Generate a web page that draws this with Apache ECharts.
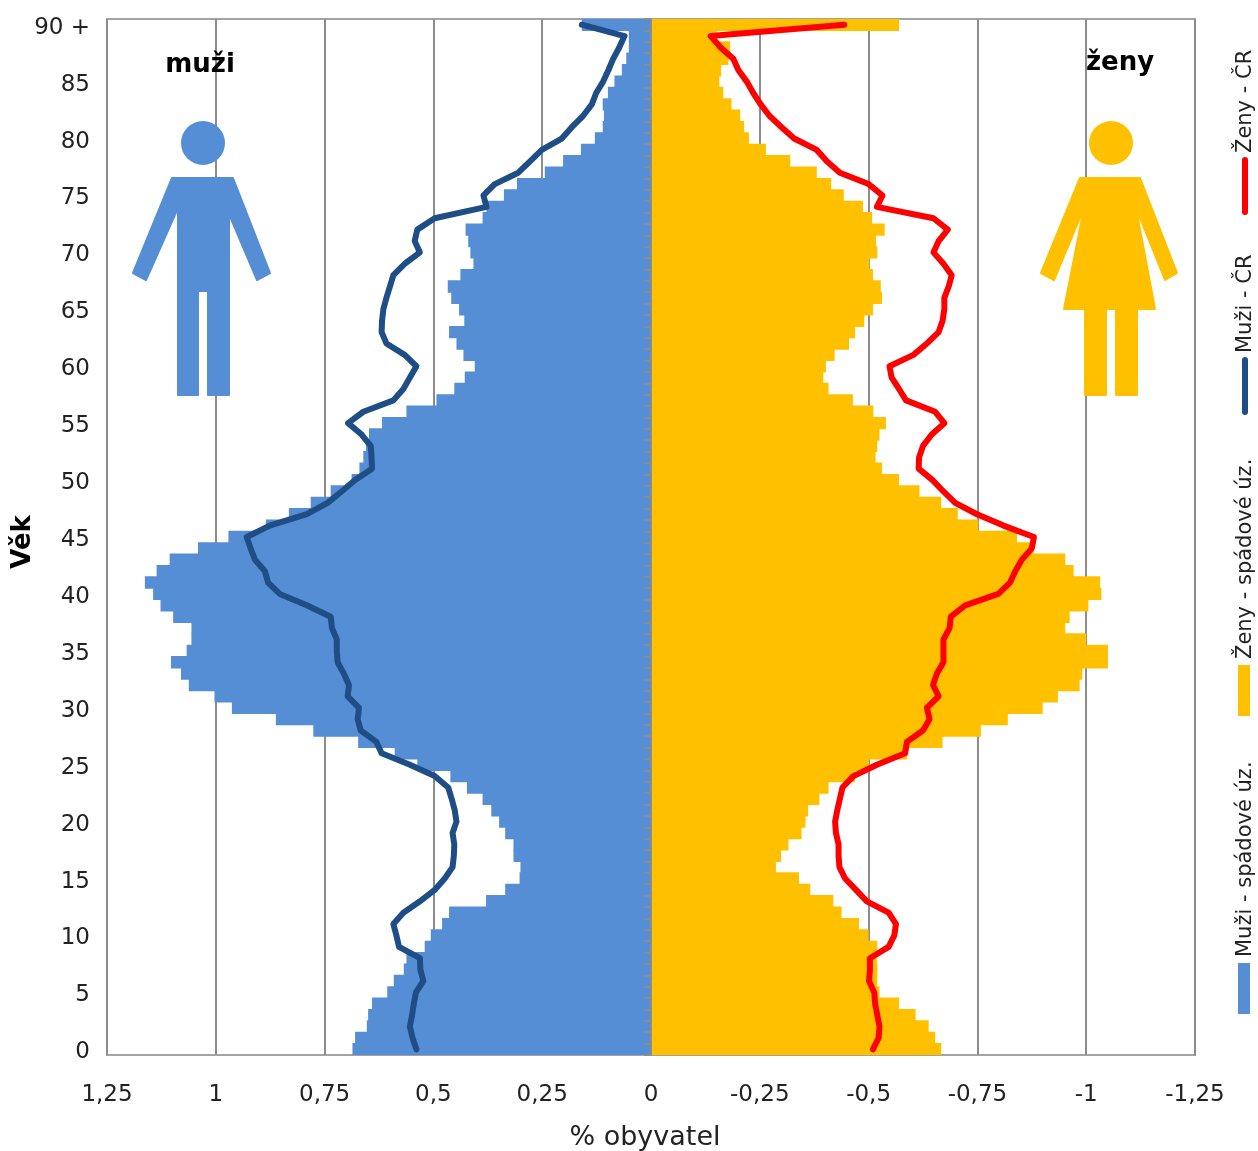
<!DOCTYPE html>
<html>
<head>
<meta charset="utf-8">
<title>Věková pyramida</title>
<script src="https://cdn.jsdelivr.net/npm/echarts@6/dist/echarts.min.js"></script>
<style>
	html, body { margin: 0; padding: 0; background: #fff; }
	#charts { width: 1258px; height: 1151px; }
</style>
</head>
<body>
<div id="charts"></div>
<script>
// vek 0 az 90 +, hodnoty v % obyvatel, zeny kladne (na ose se otoci do minusu)
var muziUz = [
	.686, .680, .653, .650, .641, .606, .591, .568, .562, .520,
	.506, .480, .464, .379, .335, .302, .300, .316, .316, .335,
	.349, .367, .387, .423, .461, .537, .589, .673, .776, .862,
	.963, 1.003, 1.062, 1.080, 1.103, 1.067, 1.056, 1.056, 1.098, 1.127,
	1.144, 1.163, 1.136, 1.106, 1.041, .971, .885, .832, .782, .736,
	.688, .670, .661, .655, .648, .618, .562, .493, .452, .428,
	.405, .431, .447, .464, .429, .441, .459, .467, .438, .408,
	.415, .420, .426, .387, .378, .338, .308, .244, .202, .161,
	.129, .111, .108, .111, .099, .084, .067, .057, .051, .051,
	.159
];
var zenyUz = [
	.667, .653, .638, .608, .570, .525, .520, .520, .519, .520,
	.500, .478, .438, .419, .366, .340, .287, .299, .316, .346,
	.355, .361, .387, .408, .469, .501, .588, .670, .758, .820,
	.900, .935, .985, .991, 1.050, 1.050, 1.000, .952, .962, 1.005,
	1.035, 1.032, .971, .952, .879, .841, .752, .705, .667, .617,
	.570, .531, .516, .520, .525, .540, .511, .464, .408, .396,
	.402, .422, .455, .469, .490, .510, .531, .528, .510, .502,
	.520, .517, .537, .508, .487, .443, .414, .381, .320, .264,
	.225, .214, .205, .185, .166, .157, .161, .178, .182, .151,
	.570
];
var muziCr = [
	.539, .548, .554, .549, .545, .540, .523, .530, .531, .579,
	.585, .592, .569, .531, .497, .474, .456, .453, .452, .456,
	.447, .451, .458, .466, .497, .554, .619, .631, .667, .674,
	.671, .697, .694, .706, .720, .722, .722, .733, .736, .791,
	.853, .880, .887, .910, .920, .929, .876, .791, .743, .711,
	.680, .641, .642, .644, .665, .696, .661, .592, .569, .554,
	.539, .566, .608, .619, .618, .615, .608, .600, .592, .566,
	.531, .543, .537, .497, .378, .385, .359, .305, .278, .251,
	.205, .182, .156, .136, .126, .110, .098, .087, .073, .061,
	.159
];
var zenyCr = [
	.510, .523, .525, .520, .515, .513, .501, .503, .503, .546,
	.559, .563, .546, .496, .471, .446, .433, .431, .431, .425,
	.423, .428, .434, .440, .465, .519, .584, .588, .625, .640,
	.634, .661, .648, .657, .672, .672, .672, .686, .689, .722,
	.798, .825, .837, .852, .875, .880, .810, .749, .699, .672,
	.647, .615, .616, .625, .645, .674, .653, .586, .570, .553,
	.548, .603, .634, .661, .670, .674, .674, .684, .691, .672,
	.649, .661, .682, .649, .519, .532, .500, .434, .404, .381,
	.329, .300, .272, .252, .235, .220, .201, .189, .160, .137,
	.444
];
var vekLabels = [];
for (var i = 0; i < 90; i++) {
	vekLabels.push(String(i));
}
vekLabels.push('90 +');

var fontName = '"DejaVu Sans", sans-serif';
var modra = '#558ed5';
var zluta = '#ffc000';
var tmava = '#1f4e86';
var cervena = '#ff0000';

function zaporne(arr) {
	return arr.map(function (v) { return -v; });
}

// popisek v legende, otoceny nahoru
function legendText(text, x, y) {
	return {
		type: 'text', x: x, y: y, rotation: Math.PI / 2, z: 10,
		style: { text: text, fill: '#222', font: '21px ' + fontName, align: 'left', verticalAlign: 'middle' }
	};
}

function postava(points, cx, cy, r, color) {
	return [
		{ type: 'circle', z: 10, shape: { cx: cx, cy: cy, r: r }, style: { fill: color } },
		{ type: 'polygon', z: 10, shape: { points: points }, style: { fill: color, stroke: color, lineWidth: 2, lineJoin: 'round' } }
	];
}

var muzBody = [[172, 178], [233, 178], [270, 273], [257, 280], [229, 214], [229, 395], [208, 395], [208, 291], [198, 291], [198, 395], [178, 395], [178, 208], [146, 280], [133, 273]];
var zenaBody = [[1080, 178], [1140, 178], [1177, 273], [1165, 280], [1136, 208], [1155, 309], [1137, 309], [1137, 395], [1116, 395], [1116, 309], [1106, 309], [1106, 395], [1085, 395], [1085, 309], [1064, 309], [1084, 208], [1054, 280], [1041, 273]];

var grafika = []
	.concat(postava(muzBody, 203, 143, 22, modra))
	.concat(postava(zenaBody, 1111, 143, 22, zluta))
	.concat([
		{ type: 'text', x: 200, y: 65, z: 10, style: { text: 'muži', fill: '#000', font: 'bold 26px ' + fontName, align: 'center', verticalAlign: 'middle' } },
		{ type: 'text', x: 1120, y: 63, z: 10, style: { text: 'ženy', fill: '#000', font: 'bold 26px ' + fontName, align: 'center', verticalAlign: 'middle' } },
		{ type: 'text', x: 23, y: 542, rotation: Math.PI / 2, z: 10, style: { text: 'Věk', fill: '#000', font: 'bold 26px ' + fontName, align: 'center', verticalAlign: 'middle' } },
		// legenda
		{ type: 'rect', z: 10, shape: { x: 1238, y: 963, width: 12, height: 51 }, style: { fill: modra } },
		{ type: 'rect', z: 10, shape: { x: 1238, y: 665, width: 12, height: 51 }, style: { fill: zluta } },
		{ type: 'line', z: 10, shape: { x1: 1245, y1: 360, x2: 1245, y2: 412 }, style: { stroke: tmava, lineWidth: 6, lineCap: 'round' } },
		{ type: 'line', z: 10, shape: { x1: 1245, y1: 160, x2: 1245, y2: 212 }, style: { stroke: cervena, lineWidth: 6, lineCap: 'round' } },
		legendText('Muži - spádové úz.', 1246, 957),
		legendText('Ženy - spádové úz.', 1246, 659),
		legendText('Muži - ČR', 1246, 353),
		legendText('Ženy - ČR', 1246, 153)
	]);

var myChart = echarts.init(document.getElementById('charts'));
var option = {
	animation: false,
	textStyle: { fontFamily: fontName },
	grid: {
		left: 107, right: 63, top: 19, bottom: 96,
		show: true, borderColor: '#a3a3a3', borderWidth: 2,
		containLabel: false, outerBoundsMode: 'none'
	},
	xAxis: {
		type: 'value',
		inverse: true,
		min: -1.25,
		max: 1.25,
		interval: .25,
		name: '% obyvatel',
		nameLocation: 'middle',
		nameGap: 69,
		nameTextStyle: { fontSize: 27, color: '#222', padding: [0, 12, 0, 0] },
		axisLine: { onZero: false, lineStyle: { color: '#a3a3a3', width: 2 } },
		axisTick: { show: false },
		axisLabel: {
			fontSize: 23,
			color: '#222',
			margin: 29,
			formatter: function (v) { return String(v).replace('.', ','); }
		},
		splitLine: { show: true, lineStyle: { color: '#8c8c8c', width: 2 } }
	},
	yAxis: [
		{
			// popisky veku vlevo
			type: 'category',
			data: vekLabels,
			axisLine: { show: false, onZero: false },
			axisTick: { show: false },
			axisLabel: {
				interval: 4,
				margin: 17,
				formatter: function (v) { return '{t|' + v + '}'; },
				rich: { t: { fontSize: 23, color: '#222', fontFamily: fontName, padding: [6, 0, 0, 0] } }
			}
		},
		{
			// osa s carkami v nule, x je obracene, proto inside
			type: 'category',
			data: vekLabels,
			z: 5,
			axisLine: { onZero: true, lineStyle: { color: '#8c8c8c', width: 2 } },
			axisTick: { show: true, inside: true, interval: 0, length: 7, lineStyle: { color: '#8c8c8c', width: 2 } },
			axisLabel: { show: false }
		}
	],
	series: [
		{
			// sirka trochu pres pasmo, jinak jsou mezi sloupci svetle spary
			name: 'Muži - spádové úz.', type: 'bar', data: muziUz, yAxisIndex: 0,
			barGap: '-100%', barWidth: 12.4,
			itemStyle: { color: modra }
		},
		{
			name: 'Ženy - spádové úz.', type: 'bar', data: zaporne(zenyUz), yAxisIndex: 0,
			barGap: '-100%', barWidth: 12.4,
			itemStyle: { color: zluta }
		},
		{
			name: 'Muži - ČR', type: 'line', data: muziCr, yAxisIndex: 0, z: 6,
			symbol: 'none', lineStyle: { color: tmava, width: 6, cap: 'round', join: 'round' }
		},
		{
			name: 'Ženy - ČR', type: 'line', data: zaporne(zenyCr), yAxisIndex: 0, z: 6,
			symbol: 'none', lineStyle: { color: cervena, width: 6, cap: 'round', join: 'round' }
		}
	],
	graphic: { elements: grafika }
};
myChart.setOption(option);
</script>
</body>
</html>
